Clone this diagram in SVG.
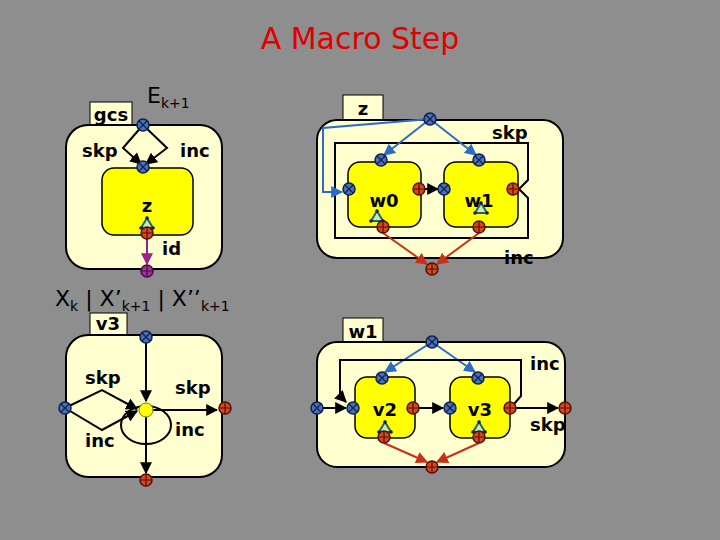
<svg xmlns="http://www.w3.org/2000/svg" width="720" height="540" viewBox="0 0 720 540">
<style>
text{font-family:"DejaVu Sans","Liberation Sans",sans-serif;font-weight:bold;fill:#000}
.t{font-size:18px}
.outer{fill:#ffffd0;stroke:#000;stroke-width:2}
.tab{fill:#ffffd0;stroke:#000;stroke-width:1}
.inner{fill:#ffff00;stroke:#000;stroke-width:1.5}
.ln{fill:none;stroke:#000;stroke-width:2}
.bl{fill:none;stroke:#2a6cc8;stroke-width:2}
.rd{fill:none;stroke:#c83018;stroke-width:2}
.pu{fill:none;stroke:#a0208a;stroke-width:2}
.nb{fill:#4a70b8;stroke:#102050;stroke-width:1.5}
.nr{fill:#d84820;stroke:#501008;stroke-width:1.5}
.np{fill:#a0309a;stroke:#401040;stroke-width:1.5}
.x{stroke:#102050;stroke-width:1.2}
.tri{fill:#c8f0a0;stroke:#206080;stroke-width:2}
</style>
<defs>
<marker id="ak" viewBox="0 0 10 10" refX="9" refY="5" markerWidth="6" markerHeight="6" orient="auto"><path d="M0,0L10,5L0,10z" fill="#000"/></marker>
<marker id="ab" viewBox="0 0 10 10" refX="9" refY="5" markerWidth="6" markerHeight="6" orient="auto"><path d="M0,0L10,5L0,10z" fill="#2a6cc8"/></marker>
<marker id="ar" viewBox="0 0 10 10" refX="9" refY="5" markerWidth="6" markerHeight="6" orient="auto"><path d="M0,0L10,5L0,10z" fill="#c83018"/></marker>
<marker id="ap" viewBox="0 0 10 10" refX="9" refY="5" markerWidth="6" markerHeight="6" orient="auto"><path d="M0,0L10,5L0,10z" fill="#a0208a"/></marker>
<g id="nbx"><circle r="6" class="nb"/><path d="M-4,-4L4,4M-4,4L4,-4" class="x"/></g>
<g id="nrp"><circle r="6" class="nr"/><path d="M-6,0H6M0,-6V6" stroke="#501008" stroke-width="1.2"/></g>
<g id="npp"><circle r="6" class="np"/><path d="M-6,0H6M0,-6V6" stroke="#401040" stroke-width="1.2"/></g>
<g id="ic"><path d="M0,-6L6,4H-6z" class="tri"/><circle cx="-6" cy="4" r="1.8" fill="#102050"/><circle cx="6" cy="4" r="1.8" fill="#102050"/><circle cx="0" cy="-6" r="1.8" fill="#102050"/></g>
</defs>
<rect width="720" height="540" fill="#8e8e8e"/>
<text x="360" y="49" text-anchor="middle" style="font-size:30px;fill:#e00000;font-weight:normal;font-family:'DejaVu Sans',sans-serif">A Macro Step</text>

<g id="panel1">
<rect x="90" y="102" width="42" height="24" class="tab"/>
<text x="111" y="121" text-anchor="middle" class="t">gcs</text>
<rect x="66" y="125" width="156" height="144" rx="22" class="outer"/>
<rect x="102" y="168" width="91" height="67" rx="12" class="inner"/>
<text x="147" y="103" style="font-size:22px;font-weight:normal">E<tspan style="font-size:14px" dy="5">k+1</tspan></text>
<text x="82" y="157" class="t">skp</text>
<text x="180" y="157" class="t">inc</text>
<text x="147" y="212" text-anchor="middle" class="t">z</text>
<text x="162" y="255" class="t">id</text>
</g>
<g id="panel2">
<rect x="343" y="95" width="40" height="25" class="tab"/>
<text x="363" y="115" text-anchor="middle" class="t">z</text>
<rect x="317" y="120" width="246" height="138" rx="20" class="outer"/>
<path d="M335,143H528V180L519,189L528,198V238H335Z" class="ln"/>
<rect x="348" y="162" width="73" height="65" rx="12" class="inner"/>
<rect x="444" y="162" width="74" height="65" rx="12" class="inner"/>
<text x="384" y="207" text-anchor="middle" class="t">w0</text>
<text x="479" y="207" text-anchor="middle" class="t">w1</text>
<text x="492" y="139" class="t">skp</text>
<text x="504" y="264" class="t">inc</text>
</g>
<text x="55" y="306" style="font-size:22px;font-weight:normal">X<tspan style="font-size:14px" dy="5">k</tspan><tspan dy="-5"> | X’</tspan><tspan style="font-size:14px" dy="5">k+1</tspan><tspan dy="-5"> | X’’</tspan><tspan style="font-size:14px" dy="5">k+1</tspan></text>
<g id="panel3">
<rect x="90" y="313" width="37" height="23" class="tab"/>
<text x="108" y="330" text-anchor="middle" class="t">v3</text>
<rect x="66" y="335" width="156" height="142" rx="22" class="outer"/>
<text x="85" y="384" class="t">skp</text>
<text x="85" y="447" class="t">inc</text>
<text x="175" y="394" class="t">skp</text>
<text x="175" y="436" class="t">inc</text>
</g>
<g id="panel4">
<rect x="343" y="318" width="40" height="25" class="tab"/>
<text x="363" y="338" text-anchor="middle" class="t">w1</text>
<rect x="317" y="342" width="248" height="125" rx="20" class="outer"/>
<rect x="355" y="377" width="60" height="61" rx="12" class="inner"/>
<rect x="450" y="377" width="60" height="61" rx="12" class="inner"/>
<text x="385" y="416" text-anchor="middle" class="t">v2</text>
<text x="480" y="416" text-anchor="middle" class="t">v3</text>
<text x="530" y="370" class="t">inc</text>
<text x="530" y="431" class="t">skp</text>
</g>

<g id="connectors">
<path d="M143,125L123,148L141,164" class="ln" marker-end="url(#ak)"/>
<path d="M143,125L167,148L146,164" class="ln" marker-end="url(#ak)"/>
<path d="M147,239V264" class="pu" marker-end="url(#ap)"/>
<path d="M430,119L384,155" class="bl" marker-end="url(#ab)"/>
<path d="M430,119L476,155" class="bl" marker-end="url(#ab)"/>
<path d="M430,119L323,128V192H342" class="bl" marker-end="url(#ab)"/>
<path d="M425,189H438" class="ln" marker-end="url(#ak)"/>
<path d="M383,233L427,264" class="rd" marker-end="url(#ar)"/>
<path d="M479,233L437,264" class="rd" marker-end="url(#ar)"/>
<path d="M146,343V401" class="ln" marker-end="url(#ak)"/>
<path d="M65,408L102,390L137,409" class="ln" marker-end="url(#ak)"/>
<path d="M65,408L102,430L137,411" class="ln" marker-end="url(#ak)"/>
<path d="M153,410H217" class="ln" marker-end="url(#ak)"/>
<path d="M146,417V473" class="ln" marker-end="url(#ak)"/>
<ellipse cx="146" cy="425" rx="25" ry="19" class="ln"/>
<path d="M432,342L385,372" class="bl" marker-end="url(#ab)"/>
<path d="M432,342L475,372" class="bl" marker-end="url(#ab)"/>
<path d="M323,408H346" class="ln" marker-end="url(#ak)"/>
<path d="M419,408H443" class="ln" marker-end="url(#ak)"/>
<path d="M516,408H558" class="ln" marker-end="url(#ak)"/>
<path d="M514,404L521,396V360H340V396L346,402" class="ln" marker-end="url(#ak)"/>
<path d="M384,443L427,462" class="rd" marker-end="url(#ar)"/>
<path d="M479,443L437,462" class="rd" marker-end="url(#ar)"/>
</g>

<g id="ports">
<use href="#nbx" x="143" y="125"/><use href="#nbx" x="143" y="167"/>
<use href="#ic" x="147" y="224"/><use href="#nrp" x="147" y="233"/><use href="#npp" x="147" y="271"/>
<use href="#nbx" x="430" y="119"/><use href="#nbx" x="381" y="160"/><use href="#nbx" x="349" y="189"/>
<use href="#nrp" x="419" y="189"/><use href="#nbx" x="444" y="189"/><use href="#nbx" x="479" y="160"/>
<use href="#nrp" x="513" y="189"/><use href="#ic" x="377" y="217"/><use href="#ic" x="481" y="209"/>
<use href="#nrp" x="383" y="227"/><use href="#nrp" x="479" y="227"/><use href="#nrp" x="432" y="269"/>
<use href="#nbx" x="146" y="337"/><use href="#nbx" x="65" y="408"/>
<circle cx="146" cy="410" r="7" fill="#ffff00" stroke="#807000"/>
<use href="#nrp" x="225" y="408"/><use href="#nrp" x="146" y="480"/>
<use href="#nbx" x="432" y="342"/><use href="#nbx" x="317" y="408"/><use href="#nbx" x="353" y="408"/>
<use href="#nbx" x="382" y="378"/><use href="#nrp" x="413" y="408"/><use href="#nbx" x="450" y="408"/>
<use href="#nbx" x="478" y="378"/><use href="#nrp" x="510" y="408"/><use href="#nrp" x="565" y="408"/>
<use href="#ic" x="385" y="428"/><use href="#ic" x="479" y="428"/>
<use href="#nrp" x="384" y="437"/><use href="#nrp" x="479" y="437"/><use href="#nrp" x="432" y="467"/>
</g>
</svg>
